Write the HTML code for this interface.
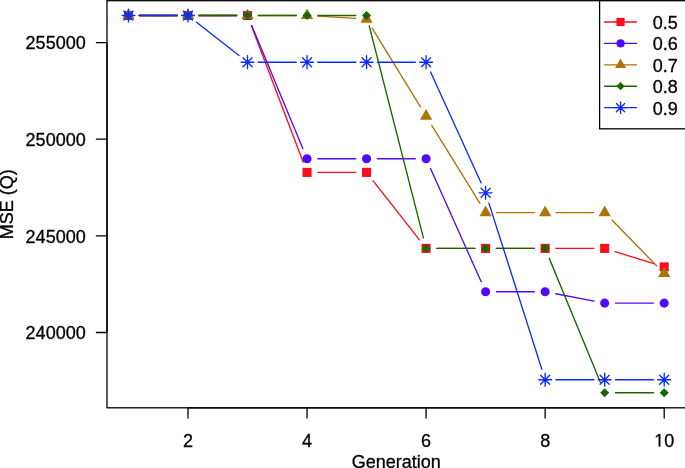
<!DOCTYPE html>
<html><head><meta charset="utf-8"><style>
html,body{margin:0;padding:0;background:#fff;width:685px;height:468px;overflow:hidden}
svg{will-change:transform}
svg text{font-family:"Liberation Sans",sans-serif;font-size:18px;fill:#000;stroke:#000;stroke-width:0.3px}
.g{fill:#000;stroke:#000;stroke-width:0.3px}
</style></head><body>
<svg width="685" height="468" viewBox="0 0 685 468" style="position:absolute;left:0;top:0">
<rect width="685" height="468" fill="#fff"/>
<path d="M139.28 15.5L177.2 15.5M198.8 15.5L236.72 15.5M251.36 25.6L303.22 162.3M317.85 172.4L355.77 172.4M373.23 180.9L419.44 239.9M436.9 248.4L474.82 248.4M496.43 248.4L534.35 248.4M555.95 248.4L593.88 248.4M614.99 251.61L653.89 263.69" stroke="#fc0d1b" stroke-width="1.35" stroke-linecap="round" fill="none"/>
<rect x="123.92" y="10.95" width="9.1" height="9.1" fill="#fc0d1b"/>
<rect x="183.45" y="10.95" width="9.1" height="9.1" fill="#fc0d1b"/>
<rect x="242.97" y="10.95" width="9.1" height="9.1" fill="#fc0d1b"/>
<rect x="302.5" y="167.85" width="9.1" height="9.1" fill="#fc0d1b"/>
<rect x="362.02" y="167.85" width="9.1" height="9.1" fill="#fc0d1b"/>
<rect x="421.55" y="243.85" width="9.1" height="9.1" fill="#fc0d1b"/>
<rect x="481.07" y="243.85" width="9.1" height="9.1" fill="#fc0d1b"/>
<rect x="540.6" y="243.85" width="9.1" height="9.1" fill="#fc0d1b"/>
<rect x="600.12" y="243.85" width="9.1" height="9.1" fill="#fc0d1b"/>
<rect x="659.65" y="262.35" width="9.1" height="9.1" fill="#fc0d1b"/>
<path d="M139.28 15.5L177.2 15.5M198.8 15.5L236.72 15.5M251.67 25.47L302.9 148.73M317.85 158.7L355.77 158.7M377.38 158.7L415.3 158.7M430.51 168.56L481.21 281.84M496.43 291.7L534.35 291.7M555.76 293.73L594.07 301.07M615.47 303.1L653.4 303.1" stroke="#510bfb" stroke-width="1.35" stroke-linecap="round" fill="none"/>
<circle cx="128.47" cy="15.5" r="4.55" fill="#510bfb"/>
<circle cx="188" cy="15.5" r="4.55" fill="#510bfb"/>
<circle cx="247.52" cy="15.5" r="4.55" fill="#510bfb"/>
<circle cx="307.05" cy="158.7" r="4.55" fill="#510bfb"/>
<circle cx="366.57" cy="158.7" r="4.55" fill="#510bfb"/>
<circle cx="426.1" cy="158.7" r="4.55" fill="#510bfb"/>
<circle cx="485.62" cy="291.7" r="4.55" fill="#510bfb"/>
<circle cx="545.15" cy="291.7" r="4.55" fill="#510bfb"/>
<circle cx="604.67" cy="303.1" r="4.55" fill="#510bfb"/>
<circle cx="664.2" cy="303.1" r="4.55" fill="#510bfb"/>
<path d="M139.28 15.5L177.2 15.5M198.8 15.5L236.72 15.5M258.32 15.5L296.25 15.5M317.83 16.15L355.79 18.45M372.22 28.3L420.45 106.9M431.77 125.29L479.96 203.41M496.43 212.6L534.35 212.6M555.95 212.6L593.88 212.6M612.22 220.32L656.65 265.78" stroke="#ac7404" stroke-width="1.35" stroke-linecap="round" fill="none"/>
<polygon points="128.47,8.42 134.6,19.04 122.35,19.04" fill="#ac7404"/>
<polygon points="188,8.42 194.13,19.04 181.87,19.04" fill="#ac7404"/>
<polygon points="247.52,8.42 253.65,19.04 241.4,19.04" fill="#ac7404"/>
<polygon points="307.05,8.42 313.18,19.04 300.92,19.04" fill="#ac7404"/>
<polygon points="366.57,12.02 372.7,22.64 360.45,22.64" fill="#ac7404"/>
<polygon points="426.1,109.02 432.23,119.64 419.97,119.64" fill="#ac7404"/>
<polygon points="485.62,205.52 491.75,216.14 479.5,216.14" fill="#ac7404"/>
<polygon points="545.15,205.52 551.28,216.14 539.02,216.14" fill="#ac7404"/>
<polygon points="604.67,205.52 610.8,216.14 598.55,216.14" fill="#ac7404"/>
<polygon points="664.2,266.42 670.33,277.04 658.07,277.04" fill="#ac7404"/>
<path d="M139.28 15.5L177.2 15.5M198.8 15.5L236.72 15.5M258.32 15.5L296.25 15.5M317.85 15.5L355.77 15.5M369.25 25.96L423.43 237.94M436.9 248.4L474.82 248.4M496.43 248.4L534.35 248.4M549.27 258.38L600.56 382.72M615.47 392.7L653.4 392.7" stroke="#1c6600" stroke-width="1.35" stroke-linecap="round" fill="none"/>
<polygon points="123.92,15.5 128.47,10.95 133.03,15.5 128.47,20.05" fill="#1c6600"/>
<polygon points="183.45,15.5 188,10.95 192.55,15.5 188,20.05" fill="#1c6600"/>
<polygon points="242.97,15.5 247.52,10.95 252.07,15.5 247.52,20.05" fill="#1c6600"/>
<polygon points="302.5,15.5 307.05,10.95 311.6,15.5 307.05,20.05" fill="#1c6600"/>
<polygon points="362.02,15.5 366.57,10.95 371.12,15.5 366.57,20.05" fill="#1c6600"/>
<polygon points="421.55,248.4 426.1,243.85 430.65,248.4 426.1,252.95" fill="#1c6600"/>
<polygon points="481.07,248.4 485.62,243.85 490.18,248.4 485.62,252.95" fill="#1c6600"/>
<polygon points="540.6,248.4 545.15,243.85 549.7,248.4 545.15,252.95" fill="#1c6600"/>
<polygon points="600.12,392.7 604.67,388.15 609.22,392.7 604.67,397.25" fill="#1c6600"/>
<polygon points="659.65,392.7 664.2,388.15 668.75,392.7 664.2,397.25" fill="#1c6600"/>
<path d="M139.28 15.5L177.2 15.5M196.5 22.17L239.03 55.53M258.32 62.2L296.25 62.2M317.85 62.2L355.77 62.2M377.38 62.2L415.3 62.2M430.58 72.03L481.15 182.97M488.9 203.09L541.87 369.41M555.95 379.7L593.88 379.7M615.47 379.7L653.4 379.7" stroke="#0b2cfb" stroke-width="1.35" stroke-linecap="round" fill="none"/>
<path d="M123.92 10.95L133.03 20.05M123.92 20.05L133.03 10.95M122.04 15.5L134.91 15.5M128.47 9.07L128.47 21.93" stroke="#0b2cfb" stroke-width="1.35" stroke-linecap="round" fill="none"/>
<path d="M183.45 10.95L192.55 20.05M183.45 20.05L192.55 10.95M181.57 15.5L194.43 15.5M188 9.07L188 21.93" stroke="#0b2cfb" stroke-width="1.35" stroke-linecap="round" fill="none"/>
<path d="M242.97 57.65L252.07 66.75M242.97 66.75L252.07 57.65M241.09 62.2L253.96 62.2M247.52 55.77L247.52 68.63" stroke="#0b2cfb" stroke-width="1.35" stroke-linecap="round" fill="none"/>
<path d="M302.5 57.65L311.6 66.75M302.5 66.75L311.6 57.65M300.62 62.2L313.48 62.2M307.05 55.77L307.05 68.63" stroke="#0b2cfb" stroke-width="1.35" stroke-linecap="round" fill="none"/>
<path d="M362.02 57.65L371.12 66.75M362.02 66.75L371.12 57.65M360.14 62.2L373.01 62.2M366.57 55.77L366.57 68.63" stroke="#0b2cfb" stroke-width="1.35" stroke-linecap="round" fill="none"/>
<path d="M421.55 57.65L430.65 66.75M421.55 66.75L430.65 57.65M419.67 62.2L432.53 62.2M426.1 55.77L426.1 68.63" stroke="#0b2cfb" stroke-width="1.35" stroke-linecap="round" fill="none"/>
<path d="M481.07 188.25L490.18 197.35M481.07 197.35L490.18 188.25M479.19 192.8L492.06 192.8M485.62 186.37L485.62 199.23" stroke="#0b2cfb" stroke-width="1.35" stroke-linecap="round" fill="none"/>
<path d="M540.6 375.15L549.7 384.25M540.6 384.25L549.7 375.15M538.72 379.7L551.58 379.7M545.15 373.27L545.15 386.13" stroke="#0b2cfb" stroke-width="1.35" stroke-linecap="round" fill="none"/>
<path d="M600.12 375.15L609.22 384.25M600.12 384.25L609.22 375.15M598.24 379.7L611.11 379.7M604.67 373.27L604.67 386.13" stroke="#0b2cfb" stroke-width="1.35" stroke-linecap="round" fill="none"/>
<path d="M659.65 375.15L668.75 384.25M659.65 384.25L668.75 375.15M657.77 379.7L670.63 379.7M664.2 373.27L664.2 386.13" stroke="#0b2cfb" stroke-width="1.35" stroke-linecap="round" fill="none"/>
<rect x="107" y="0.7" width="578.6" height="407.1" fill="none" stroke="#000" stroke-width="1.3"/>
<path d="M107 42.6L107 332.5M107 42.6L96.4 42.6M107 139.2L96.4 139.2M107 235.9L96.4 235.9M107 332.5L96.4 332.5" stroke="#000" stroke-width="1.3" fill="none" stroke-linecap="round"/>
<path d="M188 407.8L664.2 407.8M188 407.8L188 418.1M307.05 407.8L307.05 418.1M426.1 407.8L426.1 418.1M545.15 407.8L545.15 418.1M664.2 407.8L664.2 418.1" stroke="#000" stroke-width="1.3" fill="none" stroke-linecap="round"/>
<rect x="599.6" y="0.7" width="91" height="128.1" fill="#fff" stroke="#000" stroke-width="1.3"/>
<path d="M604.6 22L636.5 22" stroke="#fc0d1b" stroke-width="1.35" stroke-linecap="round"/>
<rect x="616.45" y="17.9" width="8.2" height="8.2" fill="#fc0d1b"/>
<text x="652.7" y="29">0.5</text>
<path d="M604.6 43.4L636.5 43.4" stroke="#510bfb" stroke-width="1.35" stroke-linecap="round"/>
<circle cx="620.55" cy="43.4" r="4.1" fill="#510bfb"/>
<text x="652.7" y="50.4">0.6</text>
<path d="M604.6 64.8L636.5 64.8" stroke="#ac7404" stroke-width="1.35" stroke-linecap="round"/>
<polygon points="620.55,58.42 626.07,67.99 615.03,67.99" fill="#ac7404"/>
<text x="652.7" y="71.8">0.7</text>
<path d="M604.6 86.2L636.5 86.2" stroke="#1c6600" stroke-width="1.35" stroke-linecap="round"/>
<polygon points="616.45,86.2 620.55,82.1 624.65,86.2 620.55,90.3" fill="#1c6600"/>
<text x="652.7" y="93.2">0.8</text>
<path d="M604.6 107.6L636.5 107.6" stroke="#0b2cfb" stroke-width="1.35" stroke-linecap="round"/>
<path d="M616.45 103.5L624.65 111.7M616.45 111.7L624.65 103.5M614.75 107.6L626.35 107.6M620.55 101.8L620.55 113.4" stroke="#0b2cfb" stroke-width="1.35" stroke-linecap="round" fill="none"/>
<text x="652.7" y="114.6">0.9</text>
<text x="85.7" y="49.2" text-anchor="end">255000</text>
<text x="85.7" y="145.8" text-anchor="end">250000</text>
<text x="85.7" y="242.5" text-anchor="end">245000</text>
<text x="85.7" y="339.1" text-anchor="end">240000</text>
<text x="188" y="446.5" text-anchor="middle">2</text>
<text x="307.05" y="446.5" text-anchor="middle">4</text>
<text x="426.1" y="446.5" text-anchor="middle">6</text>
<text x="545.15" y="446.5" text-anchor="middle">8</text>
<polygon class="g" points="658.72,446.5 658.72,435.63 655.92,437.62 655.92,436.13 658.85,434.12 660.31,434.12 660.31,446.5"/>
<text x="664.2" y="446.5">0</text>
<text x="396.3" y="467.9" text-anchor="middle">Generation</text>
<text transform="translate(13.3 204.3) rotate(-90)" text-anchor="middle">MSE (Q)</text>
</svg>
</body></html>
